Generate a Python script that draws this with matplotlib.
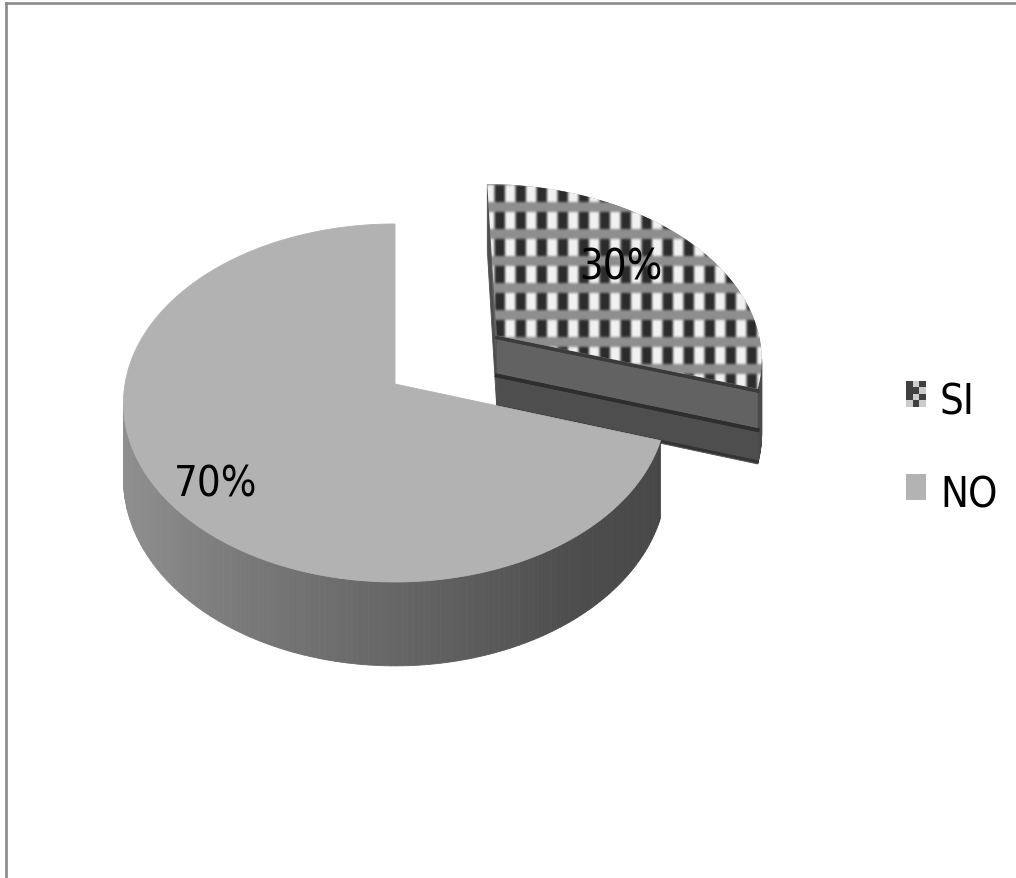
import numpy as np
import matplotlib
matplotlib.use("Agg")
import matplotlib.pyplot as plt
from matplotlib import font_manager
from matplotlib.patches import Polygon, Rectangle
from matplotlib.lines import Line2D

# ---- data -------------------------------------------------------------
labels = ["SI", "NO"]
values = [30, 70]
pct_labels = ["30%", "70%"]
explode = [0.48, 0.0]

# ---- canvas in pixel coordinates --------------------------------------
W, H = 1016, 879
fig = plt.figure(figsize=(W / 100, H / 100), dpi=100)
ax = fig.add_axes([0, 0, 1, 1])
ax.set_xlim(0, W)
ax.set_ylim(H, 0)
ax.axis("off")


def narrow_font(size):
    """Pick a narrow sans-serif face if one is installed."""
    prefs = ["LiberationSansNarrow-Regular", "NotoSans-ExtraCondensed.",
             "NotoSans-Condensed.", "DejaVuSansCondensed.", "OpenSans_Condensed-Regular",
             "OpenSans-CondensedRegular", "Roboto_Condensed-Regular", "RobotoCondensed-Regular",
             "NotoSans-SemiCondensed."]
    files = [f.fname for f in font_manager.fontManager.ttflist]
    for key in prefs:
        for fn in files:
            if key.lower() in fn.split("/")[-1].lower():
                return font_manager.FontProperties(fname=fn, size=size)
    for fn in files:
        base = fn.split("/")[-1].lower()
        if ("narrow" in base or "condensed" in base) and "bold" not in base \
                and "italic" not in base and "oblique" not in base and "mono" not in base:
            return font_manager.FontProperties(fname=fn, size=size)
    return font_manager.FontProperties(family="DejaVu Sans", size=size)


FP = narrow_font(30)

# 3-D pie projection parameters (simple perspective)
CX, CY, RX, RY, K, DEPTH = 395.0, 385.0, 270.0, 177.0, 0.106, 75.0


def proj(u, v, z=0.0):
    s = 1.0 / (1.0 + K * v)
    return CX + RX * u * s, CY - RY * v * s + DEPTH * z * s


def pt(theta_deg, r, z, off):
    t = np.radians(theta_deg)
    return proj(off[0] + r * np.sin(t), off[1] + r * np.cos(t), z)


def signed_area(poly):
    p = np.asarray(poly)
    x, y = p[:, 0], p[:, 1]
    return 0.5 * np.sum(x * np.roll(y, -1) - np.roll(x, -1) * y)


def lerp_gray(theta, stops):
    th = [s[0] for s in stops]
    g = [s[1] for s in stops]
    val = np.interp(theta, th, g) / 255.0
    return (val, val, val)


# slice angles: clockwise from 12 o'clock
total = float(sum(values))
bounds = np.concatenate([[0.0], np.cumsum(values) / total * 360.0])


def checker_texture(x0, x1, y0, y1):
    X, Y = np.meshgrid(np.arange(x0, x1), np.arange(y0, y1))
    px = (X - 495) % 21
    py = (Y - 186) % 27
    img = np.full(X.shape, 0x8e, dtype=float)
    row = py < 17
    img[row & (px < 10)] = 0x2c
    img[row & (px >= 10) & (px < 20)] = 0xf2
    # soften
    for _ in range(2):
        pad = np.pad(img, 1, mode="edge")
        img = sum(pad[1 + dy:1 + dy + img.shape[0], 1 + dx:1 + dx + img.shape[1]]
                  for dy in (-1, 0, 1) for dx in (-1, 0, 1)) / 9.0
    img = img / 255.0
    return np.dstack([img, img, img])


side_styles = {
    "SI": dict(side=[(0, 0x4a), (360, 0x4a)], top="texture"),
    "NO": dict(side=[(100, 0x44), (143, 0x4d), (186, 0x6a), (237, 0x8a),
                     (275, 0x92), (360, 0x92)], top="#b2b2b2"),
}

# draw back slice (SI) first, then NO in front
for i in range(len(values)):
    name = labels[i]
    a0, a1 = bounds[i], bounds[i + 1]
    mid = np.radians((a0 + a1) / 2)
    off = (explode[i] * np.sin(mid), explode[i] * np.cos(mid))
    style = side_styles[name]

    # outer curved side
    thetas = np.linspace(a0, a1, 240)
    for t0, t1 in zip(thetas[:-1], thetas[1:]):
        quad = [pt(t0, 1, 0, off), pt(t1, 1, 0, off), pt(t1, 1, 1, off), pt(t0, 1, 1, off)]
        if signed_area(quad) < 0:
            c = lerp_gray((t0 + t1) / 2, style["side"])
            ax.add_patch(Polygon(quad, closed=True, facecolor=c, edgecolor=c, lw=0.6))

    # radial cut faces
    start_face = [pt(a0, 0, 0, off), pt(a0, 1, 0, off), pt(a0, 1, 1, off), pt(a0, 0, 1, off)]
    end_face = [pt(a1, 1, 0, off), pt(a1, 0, 0, off), pt(a1, 0, 1, off), pt(a1, 1, 1, off)]
    for face in (start_face, end_face):
        if signed_area(face) < -1:
            if name == "SI":
                upper = [face[0], face[1],
                         pt(a1, 0, 0.55, off), pt(a1, 1, 0.55, off)]
                ax.add_patch(Polygon(face, closed=True, facecolor="#4e4e4e",
                                     edgecolor="#4e4e4e", lw=0.6))
                ax.add_patch(Polygon(upper, closed=True, facecolor="#626262",
                                     edgecolor="none"))
                for f, col, lw in ((0.03, "#3a3a3a", 2.2), (0.55, "#2e2e2e", 2.6),
                                   (0.97, "#333333", 1.8)):
                    p0 = pt(a1, 0, f, off)
                    p1 = pt(a1, 1, f, off)
                    ax.add_line(Line2D([p0[0], p1[0]], [p0[1], p1[1]], color=col, lw=lw))
            else:
                ax.add_patch(Polygon(face, closed=True, facecolor="#555555",
                                     edgecolor="#555555", lw=0.6))

    # top surface
    arc = [pt(t, 1, 0, off) for t in np.linspace(a0, a1, 300)]
    top = [pt(a0, 0, 0, off)] + arc
    if style["top"] == "texture":
        tp = Polygon(top, closed=True, facecolor="#8a8a8a", edgecolor="none")
        ax.add_patch(tp)
        xs = np.array(top)[:, 0]
        ys = np.array(top)[:, 1]
        x0, x1 = int(xs.min()) - 2, int(xs.max()) + 3
        y0, y1 = int(ys.min()) - 2, int(ys.max()) + 3
        img = ax.imshow(checker_texture(x0, x1, y0, y1), extent=(x0, x1, y1, y0),
                        origin="upper", interpolation="bilinear", zorder=2)
        img.set_clip_path(tp)
    else:
        ax.add_patch(Polygon(top, closed=True, facecolor=style["top"],
                             edgecolor=style["top"], lw=0.6, zorder=3))

# percentage labels
label_pos = {"30%": (621, 280), "70%": (216, 497)}
for txt in pct_labels:
    x, y = label_pos[txt]
    ax.text(x, y, txt, ha="center", va="baseline", fontproperties=FP,
            color="black", zorder=5)

# legend
key = np.zeros((4, 3))
key[0::2, 0::2] = 1
key[1::2, 1::2] = 1
key[:2, 0] = 1
kc = np.where(key[..., None] > 0, 0x40 / 255, 0xcc / 255) * np.ones((1, 1, 3))
ax.imshow(kc, extent=(906, 926, 408, 382), origin="upper", interpolation="nearest", zorder=5)
ax.add_patch(Rectangle((906, 475), 20, 26, facecolor="#b3b3b3", edgecolor="none", zorder=5))
ax.text(940, 415, labels[0], ha="left", va="baseline", fontproperties=FP, zorder=5)
ax.text(940, 508, labels[1], ha="left", va="baseline", fontproperties=FP, zorder=5)

ax.set_xlim(0, W)
ax.set_ylim(H, 0)

# chart area frame (top and left edges visible)
fig.add_artist(Line2D([5.5 / W, 1.0], [1 - 4 / H, 1 - 4 / H], color="#8a8a8a", lw=1.9))
fig.add_artist(Line2D([5.5 / W, 5.5 / W], [1 - 4 / H, 0.0], color="#8a8a8a", lw=1.9))

fig.savefig("out.png", dpi=100, facecolor="white")
